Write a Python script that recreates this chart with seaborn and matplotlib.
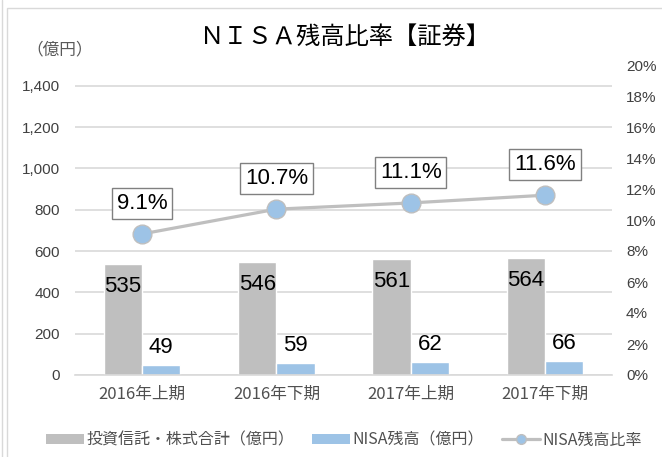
import numpy as np
import pandas as pd
import matplotlib
matplotlib.use("Agg")
import matplotlib.pyplot as plt
from matplotlib.patches import Patch, Rectangle
from matplotlib.lines import Line2D
from matplotlib.ticker import FuncFormatter
import seaborn as sns

# ---- data ----
categories = ['2016年上期', '2016年下期', '2017年上期', '2017年下期']
total_values = [535, 546, 561, 564]      # 投資信託・株式合計（億円）
nisa_values = [49, 59, 62, 66]           # NISA残高（億円）
ratio_values = [9.1, 10.7, 11.1, 11.6]   # NISA残高比率 (%)
series_names = ['投資信託・株式合計（億円）', 'NISA残高（億円）', 'NISA残高比率']
left_ticks = [0, 200, 400, 600, 800, 1000, 1200, 1400]
right_ticks = [0, 2, 4, 6, 8, 10, 12, 14, 16, 18, 20]

GRAY = '#BFBFBF'
BLUE = '#9DC3E6'
GRID = '#D9D9D9'
TXT = '#404040'
CJKTXT = '#505050'
CJK = ['Noto Sans CJK JP', 'DejaVu Sans']

sns.set_style('white')
plt.rcParams['font.family'] = ['Liberation Sans', 'Noto Sans CJK JP', 'DejaVu Sans']

fig = plt.figure(figsize=(6.62, 4.57), dpi=100)
ax = fig.add_axes([75/662, 1-375/457, (612-75)/662, (375-65)/457])

df = pd.DataFrame({
    'period': categories * 2,
    'value': total_values + nisa_values,
    'series': [series_names[0]] * len(categories) + [series_names[1]] * len(categories),
})
sns.barplot(data=df, x='period', y='value', hue='series', palette=[GRAY, BLUE],
            width=0.57, gap=0, saturation=1, legend=False, ax=ax)

ax.set_xlim(-0.5, len(categories) - 0.5)
ax.set_ylim(0, 1500)
ax.set_yticks(left_ticks)
ax.yaxis.set_major_formatter(FuncFormatter(lambda v, p: f'{int(v):,}'))
ax.set_xlabel('')
ax.set_ylabel('')
ax.yaxis.grid(True, color=GRID, lw=1.2)
ax.set_axisbelow(True)
for s in ['left', 'right', 'top']:
    ax.spines[s].set_visible(False)
ax.spines['bottom'].set_color(GRID)
ax.spines['bottom'].set_linewidth(1.2)
ax.tick_params(axis='y', length=0, pad=11, labelsize=11, labelcolor=TXT)
ax.tick_params(axis='x', length=0, pad=8, labelsize=12, labelcolor=CJKTXT)
for lab in ax.get_xticklabels():
    lab.set_family(CJK)

# bar labels
gray_bars, blue_bars = ax.containers[0], ax.containers[1]
for p, v in zip(gray_bars.patches, total_values):
    ax.annotate(f'{v}', (p.get_x() + p.get_width()/2, p.get_height()),
                xytext=(0, -16), textcoords='offset points', ha='center', va='center',
                fontsize=16, color='black')
for p, v in zip(blue_bars.patches, nisa_values):
    ax.annotate(f'{v}', (p.get_x() + p.get_width()/2, p.get_height()),
                xytext=(0, 12.5), textcoords='offset points', ha='center', va='center',
                fontsize=16, color='black')

# ratio line on secondary axis
ax2 = ax.twinx()
xpos = np.arange(len(categories))
sns.lineplot(x=xpos, y=ratio_values, ax=ax2, color=GRAY, lw=2.3, marker='o',
             markersize=13.5, markerfacecolor=BLUE, markeredgecolor=GRAY,
             markeredgewidth=1, legend=False)
ax2.set_ylim(0, 20)
ax2.set_yticks(right_ticks)
ax2.yaxis.set_major_formatter(FuncFormatter(lambda v, p: f'{int(v)}%'))
ax2.tick_params(axis='y', length=0, pad=10, labelsize=11, labelcolor=TXT)
for s in ['left', 'right', 'top', 'bottom']:
    ax2.spines[s].set_visible(False)
ax2.set_ylabel('')
for x, r in zip(xpos, ratio_values):
    ax2.annotate(f'{r}%', (x, r), xytext=(0, 22), textcoords='offset points',
                 ha='center', va='center', fontsize=16, color='black',
                 bbox=dict(boxstyle='square,pad=0.22', fc='white', ec='#808080', lw=1))

# title and unit label
fig.text(345/662, 1-37/457, 'ＮＩＳＡ残高比率【証券】', ha='center', va='center',
         fontsize=17.5, color='black', family=CJK)
fig.text(26/662, 1-50/457, '（億円）', ha='left', va='center', fontsize=12,
         color='#595959', family=CJK)

# legend
handles = [Patch(facecolor=GRAY, edgecolor='none'),
           Patch(facecolor=BLUE, edgecolor='none'),
           Line2D([0], [0], color=GRAY, lw=2.3, marker='o', markersize=7,
                  markerfacecolor=BLUE, markeredgecolor=GRAY)]
leg = fig.legend(handles, series_names, loc='center', ncol=3,
                 bbox_to_anchor=(344/662, 1-440/457), frameon=False,
                 prop={'family': CJK, 'size': 11.5}, handlelength=2.4,
                 handleheight=0.6, handletextpad=0.15, columnspacing=1.1)
for t in leg.get_texts():
    t.set_color(CJKTXT)

# chart frame lines
fig.add_artist(Line2D([2/662, 2/662], [0, 1], transform=fig.transFigure, color=GRID, lw=1))
fig.add_artist(Rectangle((7/662, -0.1), 1.0, 1-8/457 + 0.1, transform=fig.transFigure,
                         fill=False, ec=GRID, lw=1))

fig.savefig('out.png', dpi=100, facecolor='white')
